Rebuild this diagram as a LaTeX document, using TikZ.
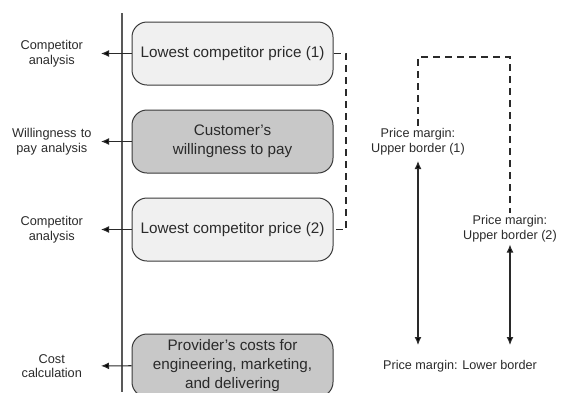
\documentclass[tikz,border=0pt]{standalone}
\usepackage{fontspec}
\setmainfont{Liberation Sans}
\usepackage{tikz}
\usetikzlibrary{arrows.meta}

\definecolor{lightbox}{HTML}{F0F0F0}
\definecolor{darkbox}{HTML}{C8C8C8}
\definecolor{edgegray}{HTML}{3A3A3A}
\definecolor{inkgray}{HTML}{2A2A2A}

\begin{document}
\begin{tikzpicture}[x = 1bp, y = -1bp, >={Latex[length = 8bp, width = 7bp]}, text = inkgray,
    box/.style = {draw = edgegray, line width = 1bp, rounded corners = 15bp, minimum width = 201bp, minimum height = 63bp, align = center, font = \fontsize{15.3}{19}\selectfont},
    source/.style = {text width = 98bp, inner sep = 0pt, align = center, font = \fontsize{12.8}{14.5}\selectfont},
    margin/.style = {inner sep = 2pt, align = center, font = \fontsize{12.7}{15}\selectfont},
    link/.style = {dash pattern = on 7bp off 5bp, line width = 1.1bp, inkgray}]
      \useasboundingbox (0,0) rectangle (561,392);
      \clip (0,0) rectangle (561,392);
      \draw[line width = 1.1bp, black!65] (122,13) -- (122,392);
      \node[box, fill = lightbox] (b1) at (232.5,53.5) {Lowest competitor price (1)};
      \node[box, fill = darkbox] (b2) at (232.5,141.5) {Customer's\\willingness to pay};
      \node[box, fill = lightbox] (b3) at (232.5,229.5) {Lowest competitor price (2)};
      \node[box, fill = darkbox] (b4) at (232.5,365.5) {Provider's costs for\\engineering, marketing,\\and delivering};
      \node[source, anchor = east] (l1) at (101,53.5) {Competitor\\analysis};
      \node[source, anchor = east] (l2) at (101,141.5) {Willingness to\\pay analysis};
      \node[source, anchor = east] (l3) at (101,229.5) {Competitor\\analysis};
      \node[source, anchor = east] (l4) at (101,366) {Cost\\calculation};
      \node[margin] (pm1) at (418,141.5) {Price margin:\\Upper border (1)};
      \node[margin] (pm2) at (510,229) {Price margin:\\Upper border (2)};
      \node[margin] (low) at (460,366) {Price margin: Lower border};
      \coordinate (lo1) at (418,345);
      \coordinate (lo2) at (510,345);
      \path[->, line width = 1.1bp, draw = inkgray] (b1) edge (l1)
                (b2) edge (l2)
                (b3) edge (l3)
                (b4) edge (l4);
      \path[<->, line width = 1.1bp, draw = inkgray] (pm1) edge[shorten < = 4bp] (lo1)
                (pm2) edge (lo2);
      \draw[link] (b1.east) -- (346,53.5) -- (346,229.5) -- (b3.east);
      \draw[link] (pm1.north) -- (418,57) -- (510,57) -- (pm2.north);
    \end{tikzpicture}
\end{document}
